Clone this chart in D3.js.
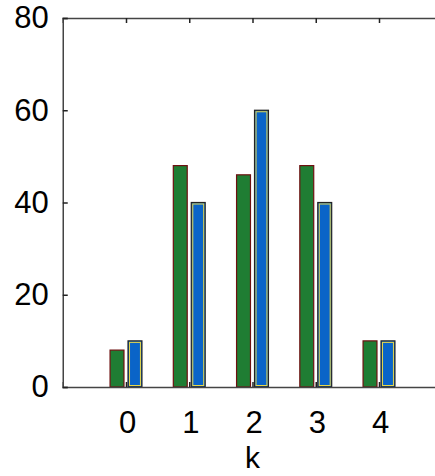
<!DOCTYPE html>
<html>
<head>
<meta charset="utf-8">
<script src="https://d3js.org/d3.v7.min.js"></script>
<style>
body { margin: 0; background: #fff; }
text { font-family: "Liberation Sans", Arial, sans-serif; }
</style>
</head>
<body>
<script>
// data
var ks = [0, 1, 2, 3, 4];
var green = [8, 48, 46, 48, 10];
var blue = [10, 40, 60, 40, 10];
var yTicks = [0, 20, 40, 60, 80];

var width = 435, height = 476;

var x = d3.scaleLinear().domain([-1, 5]).range([62.75, 442.25]);
var y = d3.scaleLinear().domain([0, 80]).range([387, 18]);

var off = 0.142, bw = 0.22;

var svg = d3.select("body").append("svg")
    .attr("width", width)
    .attr("height", height);

// green bars
svg.selectAll(".g")
    .data(ks)
    .enter().append("rect")
    .attr("class", "g")
    .attr("x", function (d) { return x(d - off - bw / 2); })
    .attr("y", function (d, i) { return y(green[i]); })
    .attr("width", x(bw) - x(0))
    .attr("height", function (d, i) { return y(0) - y(green[i]); })
    .attr("fill", "#1f7d33")
    .attr("stroke", "#6e1010")
    .attr("stroke-width", 1.2);

// blue bars: black outline with yellow inner edge
svg.selectAll(".b")
    .data(ks)
    .enter().append("rect")
    .attr("class", "b")
    .attr("x", function (d) { return x(d + off - bw / 2); })
    .attr("y", function (d, i) { return y(blue[i]); })
    .attr("width", x(bw) - x(0))
    .attr("height", function (d, i) { return y(0) - y(blue[i]); })
    .attr("fill", "#0a64c8")
    .attr("stroke", "#222")
    .attr("stroke-width", 1.2);

svg.selectAll(".bi")
    .data(ks)
    .enter().append("rect")
    .attr("class", "bi")
    .attr("x", function (d) { return x(d + off - bw / 2) + 1.5; })
    .attr("y", function (d, i) { return y(blue[i]) + 1.5; })
    .attr("width", x(bw) - x(0) - 3)
    .attr("height", function (d, i) { return y(0) - y(blue[i]) - 3; })
    .attr("fill", "none")
    .attr("stroke", "#e8d84a")
    .attr("stroke-width", 1);

// axes
var xAxis = d3.axisBottom(x).tickValues(ks).tickSize(-5).tickPadding(24).tickFormat(d3.format("d"));
var xTop = d3.axisTop(x).tickValues(ks).tickSize(-5).tickFormat("");
var yAxis = d3.axisLeft(y).tickValues(yTicks).tickSize(-5).tickPadding(14);

var gx = svg.append("g")
    .attr("transform", "translate(0," + y(0) + ")")
    .call(xAxis);
var gt = svg.append("g")
    .attr("transform", "translate(0," + y(80) + ")")
    .call(xTop);
var gy = svg.append("g")
    .attr("transform", "translate(" + x(-1) + ",0)")
    .call(yAxis);

[gx, gt, gy].forEach(function (g) {
    g.select(".domain").attr("stroke", "#444").attr("stroke-width", 1.5);
    g.selectAll(".tick line").attr("stroke", "#222").attr("stroke-width", 1.5);
    g.selectAll(".tick text").attr("font-size", 31).attr("fill", "#000")
        .attr("font-family", "'Liberation Sans', Arial, sans-serif");
});
gx.selectAll(".tick text").attr("dy", "0.71em").attr("dx", "1");

svg.append("text")
    .attr("x", x(2))
    .attr("y", 468)
    .attr("text-anchor", "middle")
    .attr("font-size", 30)
    .text("k");
</script>
</body>
</html>
